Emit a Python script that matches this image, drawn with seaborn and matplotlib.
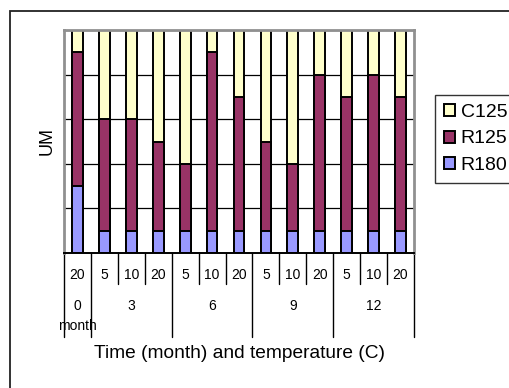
import matplotlib
matplotlib.use("Agg")
import matplotlib.pyplot as plt
import seaborn as sns
import pandas as pd
from matplotlib.patches import Patch, Rectangle
from matplotlib.lines import Line2D

# ---- data ----
months = ["0", "3", "6", "9", "12"]
group_temps = [["20"], ["5", "10", "20"], ["5", "10", "20"], ["5", "10", "20"], ["5", "10", "20"]]
r180 = [30, 10, 10, 10, 10, 10, 10, 10, 10, 10, 10, 10, 10]
r125 = [60, 50, 50, 40, 30, 80, 60, 40, 30, 70, 60, 70, 60]
c125 = [10, 40, 40, 50, 60, 10, 30, 50, 60, 20, 30, 20, 30]
series_names = ["C125", "R125", "R180"]
colors = {"R180": "#9999FF", "R125": "#993366", "C125": "#FFFFCC"}

temps = [t for g in group_temps for t in g]
month_of_bar = [m for m, g in zip(months, group_temps) for _ in g]
keys = [f"{m}-{t}" for m, t in zip(month_of_bar, temps)]
df = pd.DataFrame({"key": keys, "R180": r180, "R125": r125, "C125": c125})
df["top_R180"] = df["R180"]
df["top_R125"] = df["R180"] + df["R125"]
df["top_C125"] = df["top_R125"] + df["C125"]

sns.set_style("white")
plt.rcParams["font.family"] = ["Liberation Sans", "DejaVu Sans"]
plt.rcParams["text.color"] = "black"

W, H = 509, 388
fig = plt.figure(figsize=(W / 100, H / 100), dpi=100)
fig.patch.set_facecolor("white")
ax = fig.add_axes([64 / W, 1 - 253 / H, 350 / W, 223 / H])

for name in ["C125", "R125", "R180"]:
    sns.barplot(data=df, x="key", y="top_" + name, order=keys, color=colors[name],
                width=0.4, edgecolor="black", linewidth=1.4, saturation=1,
                errorbar=None, ax=ax)

ax.set_ylim(0, 100)
ax.set_xlim(-0.5, len(keys) - 0.5)
ax.set_yticks([0, 20, 40, 60, 80, 100])
ax.yaxis.grid(True, color="black", linewidth=0.9)
ax.set_axisbelow(True)
ax.tick_params(axis="both", length=0, labelleft=False, labelbottom=False)
ax.set_xlabel("")
ax.set_ylabel("")
for s in ["left", "top", "right"]:
    ax.spines[s].set_color("#909090")
    ax.spines[s].set_linewidth(2)
ax.spines["bottom"].set_color("black")
ax.spines["bottom"].set_linewidth(1.4)

# multi-level category axis
tr = ax.get_xaxis_transform()
ph = 223.0
def ay(px):  # pixel y (figure, from top) -> axes fraction
    return (253 - px) / ph

for i, t in enumerate(temps):
    ax.text(i, ay(275), t, transform=tr, ha="center", va="center", fontsize=10, color="black")

starts = []
pos = 0
for g in group_temps:
    starts.append(pos)
    pos += len(g)
group_edges = [s - 0.5 for s in starts] + [len(keys) - 0.5]
for i in range(len(keys) + 1):
    b = i - 0.5
    bottom = ay(337) if b in group_edges else ay(284)
    ax.add_line(Line2D([b, b], [0, bottom], transform=tr, color="black",
                       linewidth=1.0, clip_on=False))

for m, s, g in zip(months, starts, group_temps):
    c = s + (len(g) - 1) / 2
    ax.text(c, ay(306), m, transform=tr, ha="center", va="center", fontsize=10, color="black")
ax.text(0, ay(326), "month", transform=tr, ha="center", va="center", fontsize=10, color="black")

fig.text(240 / W, 1 - 354 / H, "Time (month) and temperature (C)", ha="center",
         va="center", fontsize=13.8, color="black")
fig.text(47 / W, 1 - 141 / H, "UM", rotation=90, ha="center", va="center", fontsize=13,
         color="black")

handles = [Patch(facecolor=colors[n], edgecolor="black", linewidth=1.4, label=n)
           for n in series_names]
leg = fig.legend(handles=handles, loc="upper left", bbox_to_anchor=(435 / W, 1 - 95 / H),
                 bbox_transform=fig.transFigure, fontsize=14, frameon=True,
                 fancybox=False, borderaxespad=0, handlelength=0.57, handleheight=0.57,
                 handletextpad=0.3, borderpad=0.45, labelspacing=0.5)
leg.get_frame().set_edgecolor("black")
leg.get_frame().set_linewidth(1.0)
for t in leg.get_texts():
    t.set_color("black")

fig.add_artist(Rectangle((10 / W, -0.1), 1.2, (1 - 11 / H) + 0.1, transform=fig.transFigure,
                         fill=False, edgecolor="#222222", linewidth=1.3))

fig.savefig("out.png", dpi=100)
